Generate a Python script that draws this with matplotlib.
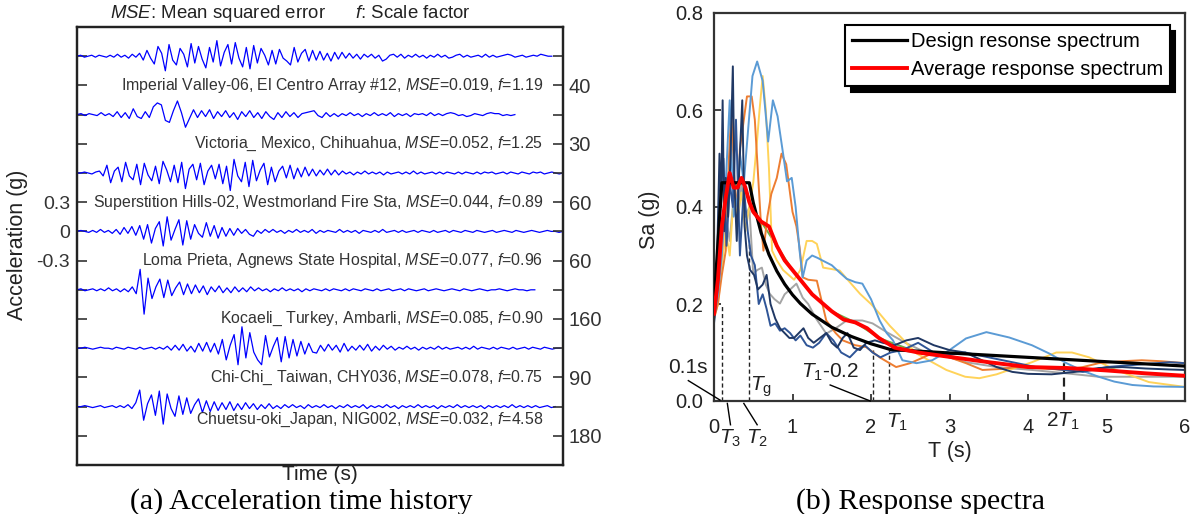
import numpy as np
import matplotlib
matplotlib.use("Agg")
import matplotlib.pyplot as plt

plt.rcParams['font.family'] = ['Liberation Sans', 'DejaVu Sans']
plt.rcParams['mathtext.fontset'] = 'custom'
plt.rcParams['mathtext.rm'] = 'Liberation Sans'
plt.rcParams['mathtext.it'] = 'Liberation Sans:italic'

# ---------------- (a) acceleration records, values in 0.01 g ----------------
rec_imperial = [0, 1, -1, 0, 1, -1, 1, 0, -1, 1, -1, 2, -1, 1, -2, 2, -1, 3,
                -4, 6, -2, -8, 10, 3, -15, 12, -4, -9, 8, 2, -11, 13, -7, 10, -3, -12, 9,
                -6, 16, -10, 4, 12, -8, 14, -2, -11, 9, -13, 11,
                -7, 8, 1, -9, 6, -8, 7, -2, -5, -9, 9, -6, 3, 7, -5, 6, -4, 5,
                -4, 3, -5, 4, -3, 4, -2, 3,
                -2, 2, -3, 2, -1, 2, -2, 1, -5, -3, 1, 2, -1,
                2, -2, 1, -1, 2, -1, 1, -2, 1, -1, 2, -1, 1, -2, -1, 1, 2, -1, 1, -1, 0,
                1, -1, 2, -1, 1, -1, 0, 1, 2, 1, -1, 0, 1, -1, 0, 1, 0, 2, 1, 0, 0]
rec_victoria = [0, 1, -1, 1, 0, -1, 2, -1, 1,
                -2, 3, -3, 2, -4, 6, -2, -4, 3, -3,
                8, 12, 10, -6, -8, 4, 14, 2, -13,
                -4, 5, -3, 4, -2, 5, -4, 3, -2, 4, -3, 2, -5, 3, -2, 4, -3, 2, -4, 3,
                -2, -5, 2, -3, 3, -2, 2, -3, 1,
                2, 3, 4, -1, -3, 2, -2, 1, -2, 1, -1, 2, -1, 1,
                -2, 1, -1, 2, -1, 1, -1, 2, -2, 1, -1, 1, -2, 1, 0, 1, -1, 2, -1, 1,
                -1, 1, 2, 1, -1, 0, -2, -1, 1, 0, -1, 1, 2, 1, 1, -1, 0, -1, 0]
rec_superstition = [0, 0, 1, 0, -1, 1, 2, -3,
                    8, -10, 2, 6, -9, 11, -3, -7, 9, -12, 10, -2, -8, 7, -11, 12, 3, -9, 8,
                    -10, 11, -16, 4, 9, -7, 10, -12, 2, 8, -6, 9, -11, 7, -18, 14, -3, -9,
                    11, -14, 13, -8, 3, 10, -12, 6, -9, 2, 7, -5, 8, -6, 5, -4, 6, -3,
                    4, -3, 3, -2, 4, -2, 3, -2, 2, -1,
                    1, -2, 1, -1, 2, -1, 1, -1, 1, -2, 1, -1, 0, 1, -1, 1, -1, 2, -1, 1,
                    -1, 0, 1, -1, 1, -1, 1, 0, -1, 1, -1, 1, 0, -1, 1, -1, 1, 0, 1, -1,
                    0, 1, -1, 1, 0, -1, 1, 0, -1, 1, 0, 1, -1, 0, 1, 0, -1, 0]
rec_loma = [0, 1, 0, -1, 1, -1, 2, -1, 1, -2, 2,
            -3, 4, -2, 5, -4, 6, -8, 7,
            -12, 3, 10, -15, 15, -9, 2, 12, -14, 11,
            -8, 7, -2, -6, 9, -5, 6, -7, 4, -5, 3, -4, 3,
            -2, 2, -3, -5, 1, -2, 2,
            -1, 2, -1, 1, -2, 1, -1, 2, -1, 1, -1, 2, -2, 1, -1, 1, 0, -1, 2, -1,
            1, -1, 1, -2, 1, 0, -1, 1, -1, 2, -1, 0, 1, -1, 1, -1, 0, 1, -1, 1,
            0, -1, 1, -1, 0, 1, -1, 1, 0, -1, 1, 0, -1, 1, 0, -1, 0, 1, -1, 0,
            1, 0, -1, 1, 0, -1, 0, 1, 0, -1, 0, 1, 0, 0, -1, 0]
rec_kocaeli = [0, 1, -1, 0, 1, -1, 1, -1, 2, -1, 1, -2, 1, -2,
               3, -4, 21, -25, 12, -9, 3, 11, -8, 10, -6, 2, 8, -5,
               6, -4, 5, -3, 4, -5, 3, -2, 4, -3, 2, -3, 3, -2, 2, -2, 3, -1,
               2, -1, 1, -2, 1, -1, 2, -1, 1, -1, 1, -2, 1, -1, 1, 0, -1, 1, -1, 1,
               0, -1, 1, -1, 1, 0, -1, 1, 0, -1, 1, -1, 0, 1, -1, 0, 1, -1, 1, 0,
               -1, 0, 1, -1, 0, 1, 0, -1, 0, 1, 0, -1, 1, 0, -1, 0, 1, 0, -1, 0,
               0, 1, 0, -1, 0, 1, 0, 0, -1, 0, 0]
rec_chichi = [0, 0, 1, 0, -1, 0, 1, 0, 0, -1, 1, 0, -1, 1, 0, -1, 1, -1, 0, 1, -1, 1, -1, 2,
              -2, 3, -2, 4, -3, 2, -4, 5, -3, 6, -4, 5, -6,
              9, -12, 3, 14, -17, 22, -10, 16, -4, -12, -17, 13, -9, 2, 11, -14, 12, -10,
              9, -8, 7, -6, 5, -4, -5, 3, -3, 4, -2, 3, -4, 5, -3, 2,
              -2, 3, -2, 4, -3, 2, -2, 3, -1, 2, -2, 1, -1,
              2, -1, 1, -2, 1, -1, 1, -1, 2, -1, 1, -1, 0, 1, -1, 1, -1, 2, -1, 1,
              0, -1, 1, -1, 1, 0, -1, 1, -1, 0, 1, -1, 1, 0, -1, 1, 0, -1, 0, 0]
rec_chuetsu = [0, 0, 1, 0, -1, 0, 1, -1, 0, 1, -1, 1, -1, 2, -2,
               4, 17, -14, 3, 12, -9, 16, -18, 13, -2, -10, 11, -8, 9, -7, 2, 8, -6, 6, -5,
               5, -4, 4, -3, 5, -4, 3, -3, 4, -2, 3, -3, 2, -2, 3,
               -2, 1, -2, 2, -1, 2, -1, 1, -2, 2, -1, 1, -1, 2, -1, 1, -2, 1, -1, 2,
               -1, 1, -1, 2, -2, 1, -1, 1, -1, 2, -1, 1, -2, 1, -1, 1, -1, 2, -1, 1,
               -1, 1, -2, 1, -1, 1, -1, 2, -1, 1, -1, 1, -1, 1, -2, 1, -1, 1, -1, 1,
               -1, 2, -1, 1, -1, 1, -1, 1, -1, 0, 1, -1, 0]

records = [rec_imperial, rec_victoria, rec_superstition, rec_loma,
           rec_kocaeli, rec_chichi, rec_chuetsu]
rec_end = [0.977, 0.901, 1.0, 1.0, 0.942, 0.994, 0.984]   # fraction of time axis
rec_offset = [1.8, 1.2, 0.6, 0.0, -0.6, -1.2, -1.8]
rec_names = ["Imperial Valley-06, El Centro Array #12",
             "Victoria_ Mexico, Chihuahua",
             "Superstition Hills-02, Westmorland Fire Sta",
             "Loma Prieta, Agnews State Hospital",
             "Kocaeli_ Turkey, Ambarli",
             "Chi-Chi_ Taiwan, CHY036",
             "Chuetsu-oki_Japan, NIG002"]
rec_mse = ["0.019", "0.052", "0.044", "0.077", "0.085", "0.078", "0.032"]
rec_f = ["1.19", "1.25", "0.89", "0.96", "0.90", "0.75", "4.58"]
rec_label_y = [1.5, 0.9, 0.3, -0.3, -0.9, -1.5, -1.94]
right_vals = [1.5, 0.9, 0.3, -0.3, -0.9, -1.5, -2.1]
right_labels = ["40", "30", "60", "60", "160", "90", "180"]
left_labels = {0.3: "0.3", 0.0: "0", -0.3: "-0.3"}

# ---------------- (b) response spectra ----------------
design_T = [0, 0.1, 0.45, 0.5, 0.6, 0.7, 0.8, 0.9, 1.0, 1.1, 1.25, 1.5, 1.75, 2.0, 2.25, 3.0, 4.0, 5.0, 6.0]
design_Sa = [0.2, 0.45, 0.45, 0.409, 0.347, 0.302, 0.268, 0.241, 0.219, 0.201, 0.179, 0.152,
             0.133, 0.118, 0.106, 0.099, 0.090, 0.081, 0.072]

avg_T = [0, 0.05, 0.1, 0.15, 0.2, 0.25, 0.3, 0.35, 0.4, 0.45, 0.5, 0.6, 0.7, 0.8, 0.9, 1.0,
         1.1, 1.25, 1.5, 1.65, 1.8, 1.95, 2.1, 2.3, 2.6, 3.0, 3.5, 4.0, 4.5, 5.0, 5.5, 6.0]
avg_Sa = [0.18, 0.25, 0.36, 0.42, 0.47, 0.44, 0.44, 0.46, 0.44, 0.41, 0.39, 0.37, 0.36, 0.32,
          0.29, 0.27, 0.25, 0.22, 0.185, 0.168, 0.162, 0.15, 0.13, 0.11, 0.1, 0.091, 0.08,
          0.07, 0.068, 0.063, 0.057, 0.052]

green_T = [0, 0.05, 0.1, 0.15, 0.2, 0.3, 0.4, 0.5, 0.6, 0.8, 1.0, 1.25, 1.5, 1.8, 2.1, 2.6,
           3.0, 3.5, 4.0, 4.5, 5.0, 5.5, 6.0]
green_Sa = [0.165, 0.25, 0.36, 0.42, 0.465, 0.44, 0.44, 0.39, 0.37, 0.32, 0.27, 0.22, 0.185,
            0.162, 0.13, 0.1, 0.091, 0.08, 0.07, 0.068, 0.063, 0.057, 0.052]

navy_T = [0, 0.04, 0.07, 0.09, 0.11, 0.13, 0.15, 0.18, 0.21, 0.24, 0.26, 0.29, 0.32, 0.36,
          0.39, 0.42, 0.46, 0.51, 0.56, 0.62, 0.67, 0.72, 0.78, 0.84, 0.9, 0.96, 1.02, 1.08,
          1.14, 1.2, 1.27, 1.35, 1.43, 1.5, 1.57, 1.64, 1.7, 1.78, 1.86, 1.94, 2.05, 2.15,
          2.3, 2.45, 2.6, 2.8, 3.0, 3.2, 3.4, 3.6, 3.8, 4.0, 4.3, 4.6, 4.9, 5.2, 5.5, 5.8, 6.0]
navy_Sa = [0.17, 0.3, 0.51, 0.4, 0.62, 0.35, 0.46, 0.38, 0.5, 0.69, 0.45, 0.33, 0.47, 0.62,
           0.36, 0.3, 0.27, 0.26, 0.23, 0.24, 0.26, 0.2, 0.17, 0.15, 0.14, 0.13, 0.13, 0.14,
           0.15, 0.13, 0.12, 0.13, 0.14, 0.12, 0.11, 0.13, 0.14, 0.11, 0.105, 0.12, 0.125,
           0.12, 0.115, 0.125, 0.13, 0.115, 0.105, 0.1, 0.085, 0.07, 0.06, 0.056, 0.055,
           0.06, 0.068, 0.07, 0.067, 0.065, 0.064]

blue_T = [0, 0.05, 0.08, 0.12, 0.16, 0.2, 0.24, 0.28, 0.33, 0.38, 0.43, 0.47, 0.52, 0.57,
          0.62, 0.67, 0.72, 0.78, 0.84, 0.9, 0.97, 1.04, 1.1, 1.18, 1.26, 1.34, 1.43, 1.52,
          1.62, 1.73, 1.82, 1.92, 2.02, 2.12, 2.25, 2.4, 2.6, 2.8, 3.0, 3.2, 3.5, 3.8, 4.1,
          4.4, 4.7, 5.0, 5.4, 5.8, 6.0]
blue_Sa = [0.16, 0.24, 0.42, 0.5, 0.32, 0.45, 0.4, 0.58, 0.3, 0.44, 0.35, 0.3, 0.28, 0.2,
           0.22, 0.19, 0.155, 0.16, 0.145, 0.15, 0.14, 0.125, 0.135, 0.115, 0.11, 0.12,
           0.14, 0.125, 0.1, 0.09, 0.105, 0.115, 0.1, 0.09, 0.1, 0.105, 0.12, 0.1, 0.095,
           0.1, 0.09, 0.08, 0.07, 0.065, 0.06, 0.07, 0.075, 0.08, 0.078]

lblue_T = [0, 0.05, 0.1, 0.15, 0.2, 0.25, 0.3, 0.33, 0.38, 0.43, 0.49, 0.55, 0.62, 0.69,
           0.75, 0.81, 0.88, 0.93, 0.99, 1.04, 1.09, 1.13, 1.18, 1.25, 1.32, 1.39, 1.5, 1.6,
           1.69, 1.8, 1.89, 2.0, 2.11, 2.2, 2.28, 2.4, 2.58, 2.78, 3.0, 3.21, 3.47, 3.76,
           4.05, 4.27, 4.49, 4.7, 4.9, 5.1, 5.33, 5.6, 6.0]
lblue_Sa = [0.17, 0.22, 0.3, 0.45, 0.62, 0.38, 0.42, 0.51, 0.45, 0.55, 0.67, 0.70, 0.66,
            0.535, 0.62, 0.587, 0.51, 0.453, 0.46, 0.4, 0.31, 0.255, 0.29, 0.3, 0.295,
            0.289, 0.28, 0.265, 0.252, 0.245, 0.242, 0.21, 0.166, 0.14, 0.125, 0.084,
            0.078, 0.084, 0.105, 0.129, 0.142, 0.131, 0.115, 0.098, 0.078, 0.062, 0.05,
            0.04, 0.033, 0.03, 0.029]

orange_T = [0, 0.05, 0.1, 0.15, 0.19, 0.22, 0.26, 0.3, 0.33, 0.38, 0.42, 0.48, 0.52, 0.56,
            0.6, 0.63, 0.68, 0.73, 0.8, 0.86, 0.92, 1.0, 1.05, 1.09, 1.13, 1.2, 1.31, 1.43,
            1.55, 1.64, 1.8, 1.94, 2.11, 2.32, 2.5, 2.78, 3.0, 3.21, 3.42, 3.65, 3.85, 4.1,
            4.49, 4.7, 4.9, 5.2, 5.45, 5.7, 6.0]
orange_Sa = [0.17, 0.2, 0.26, 0.31, 0.5, 0.6, 0.45, 0.4, 0.52, 0.58, 0.628, 0.628, 0.58,
             0.47, 0.36, 0.31, 0.38, 0.427, 0.46, 0.51, 0.488, 0.39, 0.36, 0.317, 0.255,
             0.25, 0.248, 0.166, 0.14, 0.125, 0.115, 0.111, 0.09, 0.07, 0.078, 0.098, 0.09,
             0.078, 0.064, 0.066, 0.07, 0.068, 0.064, 0.07, 0.078, 0.082, 0.084, 0.082, 0.078]

yellow_T = [0, 0.05, 0.1, 0.15, 0.2, 0.25, 0.3, 0.35, 0.4, 0.45, 0.5, 0.54, 0.58, 0.62,
            0.66, 0.7, 0.74, 0.8, 0.88, 0.95, 1.02, 1.1, 1.18, 1.25, 1.31, 1.39, 1.5, 1.6,
            1.73, 1.86, 2.0, 2.11, 2.24, 2.36, 2.58, 2.78, 2.96, 3.2, 3.38, 3.6, 3.76, 4.05,
            4.36, 4.56, 4.78, 5.12, 5.54, 6.0]
yellow_Sa = [0.17, 0.2, 0.28, 0.35, 0.3, 0.42, 0.38, 0.43, 0.35, 0.4, 0.45, 0.52, 0.6, 0.67,
             0.6, 0.48, 0.31, 0.29, 0.27, 0.26, 0.25, 0.27, 0.33, 0.33, 0.324, 0.275, 0.272,
             0.269, 0.245, 0.221, 0.2, 0.18, 0.155, 0.135, 0.098, 0.08, 0.064, 0.05, 0.047,
             0.055, 0.064, 0.08, 0.1, 0.1, 0.09, 0.064, 0.039, 0.029]

gray_T = [0, 0.05, 0.1, 0.15, 0.2, 0.25, 0.3, 0.35, 0.4, 0.45, 0.5, 0.55, 0.61, 0.66, 0.71,
          0.77, 0.84, 0.9, 0.97, 1.05, 1.13, 1.2, 1.3, 1.43, 1.55, 1.69, 1.8, 1.89, 2.02,
          2.2, 2.45, 2.7, 3.0, 3.21, 3.6, 4.05, 4.49, 4.9, 5.4, 6.0]
gray_Sa = [0.17, 0.22, 0.3, 0.38, 0.33, 0.42, 0.36, 0.45, 0.38, 0.4, 0.262, 0.27, 0.275,
           0.24, 0.221, 0.21, 0.201, 0.22, 0.23, 0.242, 0.213, 0.2, 0.17, 0.139, 0.15, 0.166,
           0.166, 0.166, 0.16, 0.142, 0.119, 0.1, 0.09, 0.08, 0.07, 0.064, 0.057, 0.05,
           0.05, 0.05]

spectra = [(green_T, green_Sa, '#70AD47'), (gray_T, gray_Sa, '#A5A5A5'),
           (yellow_T, yellow_Sa, '#FFD35A'), (orange_T, orange_Sa, '#ED7D31'),
           (lblue_T, lblue_Sa, '#5B9BD5'), (blue_T, blue_Sa, '#2F5597'),
           (navy_T, navy_Sa, '#203864')]

dash_T = [0.1, 0.45, 2.03, 2.23]
dash_top = [0.2, 0.33, 0.105, 0.105]
T1x2 = 4.46

fig = plt.figure(figsize=(11.92, 5.14), dpi=100)
W, H = 1192.0, 514.0

# ====== panel (a) ======
axa = fig.add_axes([77 / W, 1 - 465 / H, 486 / W, 438 / H])
axa.set_xlim(0, 1)
axa.set_ylim(-2.4, 2.1)
for acc, end, off in zip(records, rec_end, rec_offset):
    a = np.array(acc) * 0.01
    t = np.linspace(0, end, len(a))
    axa.plot(t, a + off, color='#0000FF', lw=0.9)

for name, mse, f, y in zip(rec_names, rec_mse, rec_f, rec_label_y):
    axa.text(0.959, y, name + ", $\\mathit{MSE}$=" + mse + ", $\\mathit{f}$=" + f,
             ha='right', va='center', fontsize=11.4, color='#333333')

yt = np.round(np.arange(-7, 7) * 0.3, 2)
axa.set_yticks(yt)
axa.set_yticklabels([left_labels.get(round(v, 2) + 0.0, "") for v in yt])
axa.set_xticks([])
axa.tick_params(axis='y', direction='in', length=7, width=1.2, labelsize=14,
                pad=5, colors='#333333')
axr = axa.twinx()
axr.set_ylim(-2.4, 2.1)
axr.set_yticks(yt)
rmap = dict(zip(right_vals, right_labels))
axr.set_yticklabels([rmap.get(round(v, 2), "") for v in yt])
axr.tick_params(axis='y', direction='in', length=7, width=1.2, labelsize=14.5,
                pad=4, colors='#333333')
for ax in (axa, axr):
    for s in ax.spines.values():
        s.set_linewidth(1.6)
        s.set_color('#222222')

fig.text(290 / W, 1 - 14 / H,
         "$\\mathit{MSE}$: Mean squared error      $\\mathit{f}$: Scale factor",
         ha='center', va='center', fontsize=13.4, color='#222222')
fig.text(18 / W, 1 - 245 / H, "Acceleration (g)", rotation=90, ha='center',
         va='center', fontsize=15.5, color='#222222')
fig.text(320 / W, 1 - 475 / H, "Time (s)", ha='center', va='center',
         fontsize=15, color='#222222')

# ====== panel (b) ======
axb = fig.add_axes([714 / W, 1 - 401 / H, 471 / W, 388 / H])
axb.set_xlim(0, 6)
axb.set_ylim(0, 0.8)

for x, top in zip(dash_T, dash_top):
    axb.plot([x, x], [0, top], color='#222222', lw=1.0, ls=(0, (3, 2)), zorder=1)
axb.plot([T1x2, T1x2], [0, 0.08], color='#222222', lw=1.6, ls=(0, (4, 2.5)), zorder=1)

for tt, ss, c in spectra:
    axb.plot(tt, ss, color=c, lw=1.4, zorder=2)
axb.plot(design_T, design_Sa, color='black', lw=2.3, zorder=3,
         label='Design resonse spectrum')
axb.plot(avg_T, avg_Sa, color='#FF0000', lw=2.8, zorder=4,
         label='Average response spectrum')

axb.set_xticks(range(7))
axb.set_yticks([0, 0.2, 0.4, 0.6, 0.8])
axb.set_yticklabels(["0.0", "0.2", "0.4", "0.6", "0.8"])
axb.tick_params(axis='both', direction='in', length=5, width=1.2, labelsize=14.5,
                colors='#222222')
axb.tick_params(axis='x', pad=12)
axb.tick_params(axis='y', pad=8)
for s in axb.spines.values():
    s.set_linewidth(1.6)
    s.set_color('#333333')

leg = axb.legend(loc='upper right', bbox_to_anchor=(0.968, 0.969), borderaxespad=0,
                 fontsize=14.5, handlelength=2.7, handletextpad=0.2, labelspacing=0.45,
                 borderpad=0.35, fancybox=False, framealpha=1, edgecolor='black',
                 shadow={'ox': 4, 'oy': -4, 'color': 'black', 'alpha': 1})
leg.get_frame().set_linewidth(1.5)

# annotations
ann = dict(color='black', lw=1.0, clip_on=False, zorder=5)
axb.plot([-0.327, 0.076], [0.042, 0.002], **ann)
axb.plot([1.48, 1.99], [0.033, 0.0], **ann)
axb.plot([0.17, 0.21], [-0.005, -0.049], **ann)
axb.plot([0.38, 0.55], [-0.005, -0.049], **ann)
tk = dict(ha='center', va='center', fontsize=15, color='#222222', clip_on=False)
axb.text(-0.33, 0.07, "0.1s", **tk)
axb.text(1.48, 0.06, "$T_1$-0.2", **tk)
axb.text(0.6, 0.029, "$T_\\mathrm{g}$", **tk)
axb.text(0.2, -0.076, "$T_3$", **tk)
axb.text(0.55, -0.076, "$T_2$", **tk)
axb.text(2.33, -0.043, "$T_1$", **tk)
axb.text(4.45, -0.041, "2$T_1$", **tk)

fig.text(650 / W, 1 - 220 / H, "Sa (g)", rotation=90, ha='center', va='center',
         fontsize=15.5, color='#222222')
fig.text(950 / W, 1 - 452 / H, "T (s)", ha='center', va='center',
         fontsize=15.5, color='#222222')

# captions
fig.text(301 / W, 1 - 502 / H, "(a) Acceleration time history", ha='center',
         va='center', fontsize=21.5, family='Liberation Serif')
fig.text(920 / W, 1 - 502 / H, "(b) Response spectra", ha='center',
         va='center', fontsize=21.5, family='Liberation Serif')

fig.savefig("out.png", dpi=100)
